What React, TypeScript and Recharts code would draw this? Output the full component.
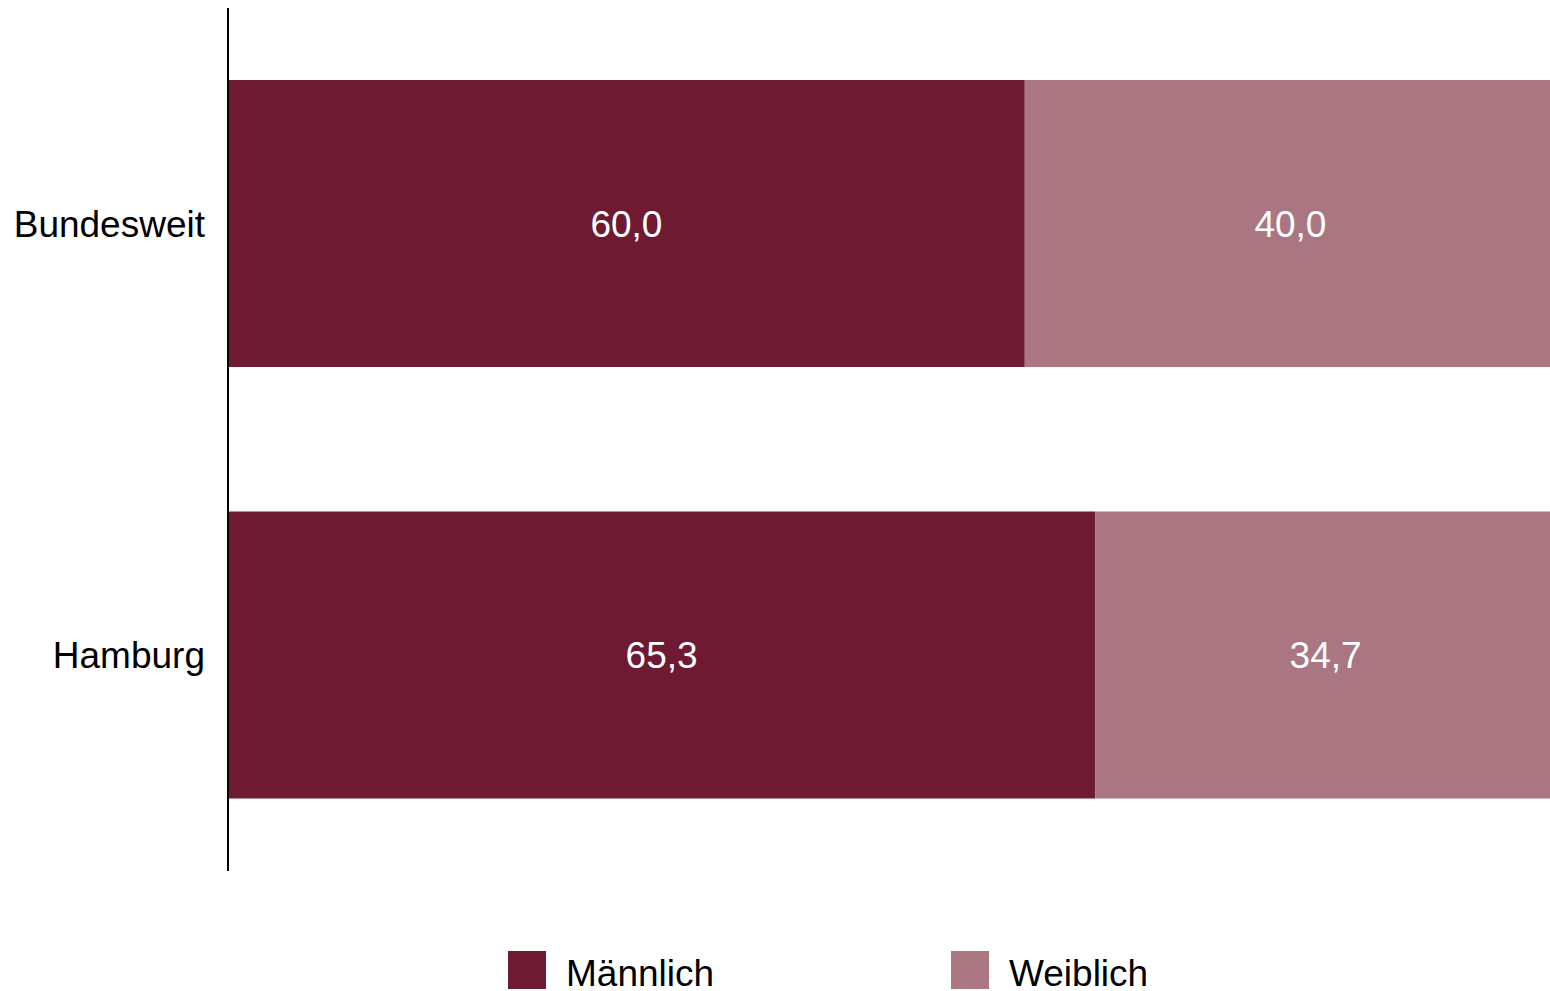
import { BarChart, Bar, XAxis, YAxis, Legend, LabelList } from "recharts"

const regions = ["Bundesweit", "Hamburg"]
const maleShare = [60.0, 65.3]
const femaleShare = [40.0, 34.7]

const seriesInfo = [
  { key: "male", label: "Männlich", color: "#6F1A33" },
  { key: "female", label: "Weiblich", color: "#A97682" },
]

const chartData = regions.map((name, i) => ({
  name,
  male: maleShare[i],
  female: femaleShare[i],
}))

const font = "'Liberation Sans', Arial, sans-serif"

const formatValue = (v: any) => Number(v).toFixed(1).replace(".", ",")

function LegendBox() {
  return (
    <div style={{ height: 129, paddingTop: 80, paddingLeft: 508, boxSizing: "border-box", display: "flex", fontFamily: font }}>
      {seriesInfo.map((s, i) => (
        <div key={s.key} style={{ display: "flex", alignItems: "center", width: i === 0 ? 443 : 300, height: 38 }}>
          <div style={{ width: 38, height: 38, background: s.color, marginRight: 20 }} />
          <span style={{ fontSize: 37, color: "#000", lineHeight: "38px", position: "relative", top: 4 }}>{s.label}</span>
        </div>
      ))}
    </div>
  )
}

export default function App() {
  return (
    <div style={{ position: "absolute", left: 0, top: 0, width: 1550, height: 991, overflow: "hidden", background: "#fff" }}>
      <BarChart
        width={1560}
        height={1000}
        data={chartData}
        layout="vertical"
        margin={{ top: 8, right: 4, bottom: 0, left: 0 }}
        style={{ fontFamily: font }}
      >
        <XAxis type="number" domain={[0, 100]} hide />
        <YAxis
          type="category"
          dataKey="name"
          width={228}
          axisLine={{ stroke: "#000", strokeWidth: 2 }}
          tickLine={false}
          tickSize={0}
          tickMargin={23}
          tick={{ fill: "#000", fontSize: 37, fontFamily: font }}
        />
        <Legend verticalAlign="bottom" content={<LegendBox />} />
        {seriesInfo.map((s) => (
          <Bar key={s.key} dataKey={s.key} stackId="a" fill={s.color} barSize={287} isAnimationActive={false}>
            <LabelList
              dataKey={s.key}
              position="center"
              formatter={formatValue}
              style={{ fill: "#fff", fontSize: 37, fontFamily: font }}
            />
          </Bar>
        ))}
      </BarChart>
    </div>
  )
}
